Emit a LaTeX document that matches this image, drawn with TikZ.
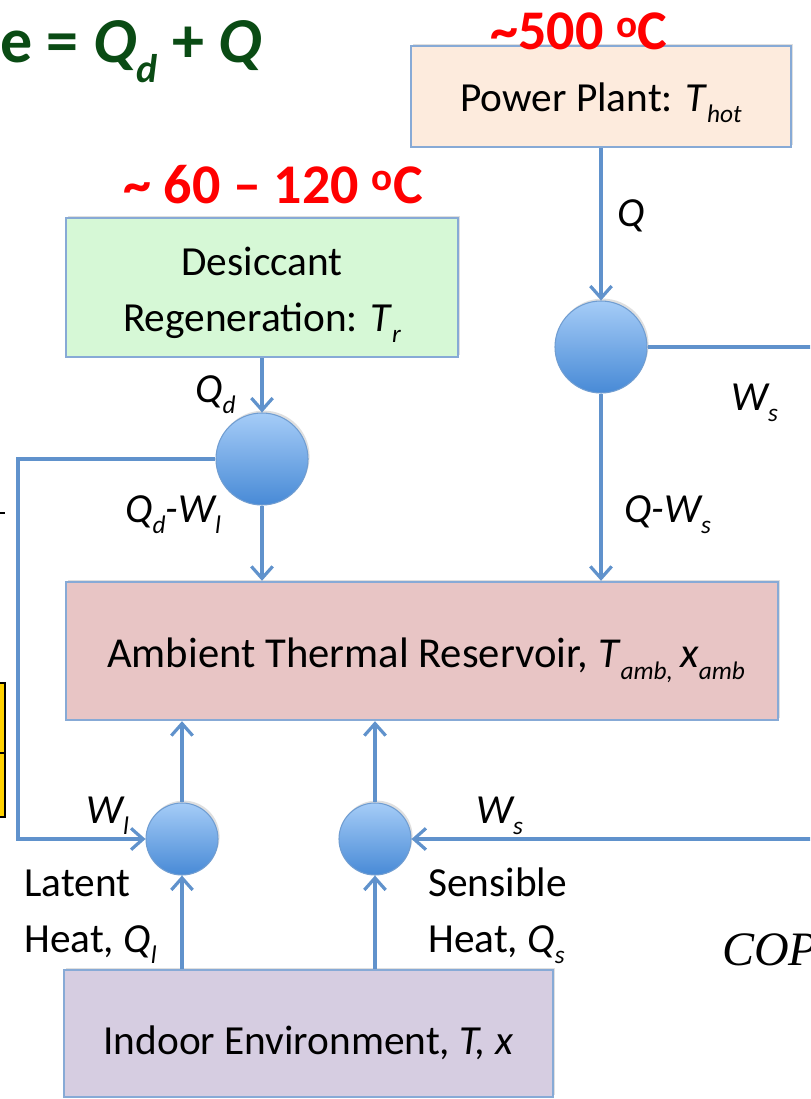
\documentclass[tikz,border=0pt]{standalone}
\usepackage{fontspec}
\setmainfont{Carlito}
\newfontfamily\timesf{Liberation Serif}
\usetikzlibrary{arrows.meta,shadows}
\definecolor{lineblue}{RGB}{96,146,204}
\definecolor{boxborder}{RGB}{135,170,214}
\definecolor{peach}{RGB}{253,235,221}
\definecolor{mint}{RGB}{214,248,214}
\definecolor{rose}{RGB}{232,197,197}
\definecolor{lilac}{RGB}{214,205,225}
\definecolor{circtop}{RGB}{165,204,247}
\definecolor{circbot}{RGB}{72,138,214}
\definecolor{hotred}{RGB}{255,0,0}
\definecolor{dkgreen}{RGB}{10,75,20}
\definecolor{goldy}{RGB}{255,210,0}
\newcommand\lsub[1]{\raisebox{-0.27em}{\fontsize{19}{20}\selectfont\itshape #1}}
\tikzset{
  blk/.style={draw=boxborder, line width=1.8pt, rectangle, font=\fontsize{31}{42}\selectfont, align=center,
    drop shadow={shadow xshift=1.2pt, shadow yshift=1.8pt, opacity=0.25}},
  junc/.style={circle, draw=lineblue!90, line width=0.8pt, top color=circtop, bottom color=circbot,
    inner sep=0pt, drop shadow={shadow xshift=1.2pt, shadow yshift=1.8pt, opacity=0.25}},
  flow/.style={draw=lineblue, line width=2.6pt},
  arr/.style={flow, -{Straight Barb[length=9pt, width=16pt, line width=2.4pt]}},
  lbl/.style={font=\fontsize{31}{40}\selectfont\itshape, inner sep=0pt, anchor=base west},
  txt/.style={font=\fontsize{31}{40}\selectfont, inner sep=0pt, anchor=base west},
  temp/.style={font=\fontsize{42}{48}\selectfont\bfseries, text=hotred, inner sep=0pt},
}
\begin{document}
\begin{tikzpicture}[x=0.75pt,y=0.75pt,yscale=-1]
\useasboundingbox (0,0) rectangle (810,1099);
\clip (0,0) rectangle (810,1099);
\fill[white] (0,0) rectangle (810,1099);

% boxes
\node[blk, fill=peach, minimum width=285pt, minimum height=75.75pt] (pp) at (601,96.5) {\rule{0pt}{31pt}Power Plant: \textit{T}\lsub{hot}};
\node[blk, fill=mint, minimum width=294pt, minimum height=104.25pt] (des) at (262,287.5) {\rule{0pt}{32pt}Desiccant\\Regeneration: \textit{T}\lsub{r}};
\node[blk, fill=rose, minimum width=534pt, minimum height=103.5pt, font=\fontsize{32}{42}\selectfont] (amb) at (422,651) {\rule{0pt}{36pt}\hspace{6pt}Ambient Thermal Reservoir, \textit{T}\lsub{amb,}\,\textit{x}\lsub{amb}};
\node[blk, fill=lilac, minimum width=366.75pt, minimum height=95.25pt] (ind) at (308.5,1033.5) {\rule{0pt}{36pt}Indoor Environment, \textit{T, x}};

% junctions
\node[junc, minimum size=69pt] (cd) at (262,459) {};
\node[junc, minimum size=69pt] (cp) at (601,347) {};
\node[junc, minimum size=54pt] (cl) at (182,839) {};
\node[junc, minimum size=54pt] (cs) at (375,839) {};

% free ends
\coordinate (lb) at (18,839);
\coordinate (rt) at (815,347);
\coordinate (rb) at (815,839);

% connectors
\draw[arr] (pp.south -| cp) -- (cp.north);
\draw[arr] (cp.south) -- (cp |- amb.north);
\draw[flow] (cp.east) -- (rt);
\draw[arr] (des.south -| cd) -- (cd.north);
\draw[arr] (cd.south) -- (cd |- amb.north);
\draw[arr] (cd.west) -| (lb) -- (cl.west);
\draw[arr] (rb) -- (cs.east);
\draw[arr] (ind.north -| cl) -- (cl.south);
\draw[arr] (ind.north -| cs) -- (cs.south);
\draw[arr] (cl.north) -- (cl |- amb.south);
\draw[arr] (cs.north) -- (cs |- amb.south);

% labels
\node[lbl] (lq) at (617,226) {Q};
\node[lbl] (lws1) at (731,410) {W\lsub{s}};
\node[lbl] (lqws) at (624,522) {Q-W\lsub{s}};
\node[lbl] (lqd) at (195,402) {Q\lsub{d}};
\node[lbl] (lqdwl) at (125,522) {Q\lsub{d}-W\lsub{l}};
\node[lbl] (lwl) at (86,823) {W\lsub{l}};
\node[lbl] (lws2) at (476,823) {W\lsub{s}};
\node[txt] (lat1) at (24,896) {Latent};
\node[txt] (lat2) at (24,952) {Heat, \textit{Q}\lsub{l}};
\node[txt] (sen1) at (428,896) {Sensible};
\node[txt] (sen2) at (428,952) {Heat, \textit{Q}\lsub{s}};

% temperatures
\node[temp, anchor=base] (t500) at (579,50) {\textasciitilde500 \textsuperscript{o}C};
\node[temp, anchor=base] (t60) at (273,203) {\textasciitilde\ 60 -- 120 \textsuperscript{o}C};

% clipped extras
\node[font=\fontsize{48}{56}\selectfont\bfseries, text=dkgreen, inner sep=0pt, anchor=base west] (eq) at (0,63)
  {e = \textit{Q}\raisebox{-0.3em}{\fontsize{30}{32}\selectfont\bfseries\itshape d} + \textit{Q}};
\node[font=\timesf\itshape\fontsize{36}{40}\selectfont, inner sep=0pt, anchor=base west] (cop) at (722,965) {COP};
\draw[black, line width=0.8pt] (0,513) -- (5,513);
\draw[black, line width=0.8pt, fill=goldy] (-3,683) rectangle (5,753);
\draw[black, line width=0.8pt, fill=goldy] (-3,753) rectangle (5,817);
\end{tikzpicture}
\end{document}
